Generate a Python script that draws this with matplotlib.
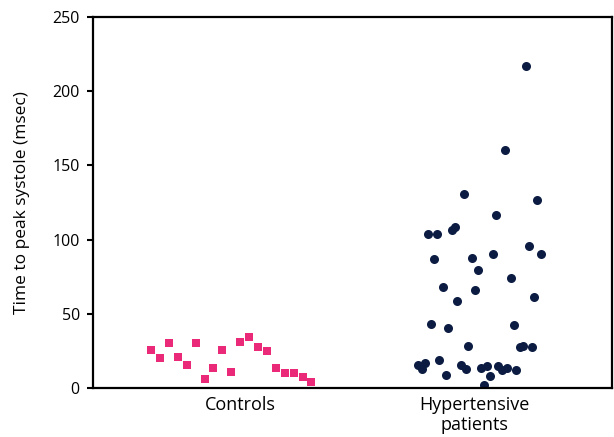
import matplotlib.pyplot as plt

# category positions and labels
groups = [1, 2]
group_labels = ["Controls", "Hypertensive\npatients"]

# controls: horizontal offset from group centre, value in msec
ctrl_x = [-0.385, -0.346, -0.308, -0.269, -0.231, -0.190, -0.151, -0.117, -0.079,
          -0.040, -0.002, 0.037, 0.075, 0.112, 0.152, 0.191, 0.229, 0.268, 0.302]
ctrl_y = [25.8, 20.4, 30.1, 20.7, 15.5, 30.1, 5.9, 13.5, 25.6,
          11.0, 30.8, 34.6, 27.6, 24.9, 13.7, 10.1, 10.1, 7.6, 4.2]

# hypertensive patients
hyp_x = [0.219, 0.129, -0.046, 0.266, 0.090, -0.201, -0.162, -0.098, -0.084,
         0.235, 0.283, 0.080, -0.009, -0.174, 0.013, 0.158, -0.135, 0.003, 0.256,
         -0.074, -0.185, -0.114, 0.167, -0.026, 0.195, 0.206, 0.245,
         -0.242, -0.214, -0.225, -0.153, -0.124, -0.060, -0.035, 0.029, 0.053,
         0.067, 0.041, 0.100, 0.117, 0.138, 0.178]
hyp_y = [216.8, 160.2, 130.7, 126.5, 116.8, 103.8, 103.8, 106.5, 108.3,
         95.9, 90.1, 90.1, 87.4, 86.7, 79.7, 74.3, 68.3, 65.8, 61.5,
         58.8, 43.1, 40.6, 42.2, 28.5, 27.4, 28.3, 27.4,
         15.7, 16.6, 12.6, 18.9, 8.6, 15.7, 13.0, 13.7, 14.8,
         8.3, 2.0, 14.8, 12.1, 13.7, 12.1]

plt.rcParams['font.family'] = ['Open Sans', 'DejaVu Sans']

fig = plt.figure(figsize=(6.14, 4.37), dpi=100)
ax = fig.add_axes([0.1515, 0.112, 0.846, 0.849])

ax.plot([groups[0] + d for d in ctrl_x], ctrl_y, linestyle="none", marker="s",
        markersize=6, color="#ea2a78", markeredgewidth=0)
ax.plot([groups[1] + d for d in hyp_x], hyp_y, linestyle="none", marker="o",
        markersize=6.5, color="#0b1b42", markeredgewidth=0)

ax.set_xlim(0.368, 2.59)
ax.set_ylim(0, 250)
ax.set_yticks([0, 50, 100, 150, 200, 250])
ax.set_xticks(groups)
ax.set_xticklabels(group_labels, fontsize=13, linespacing=1.1)
ax.tick_params(axis="x", length=0, pad=6)
ax.tick_params(axis="y", length=4.5, width=1.5, labelsize=11.5, pad=5)
ax.set_ylabel("Time to peak systole (msec)", fontsize=12.5, labelpad=16)
for s in ax.spines.values():
    s.set_linewidth(1.6)

plt.savefig("out.png", dpi=100)
